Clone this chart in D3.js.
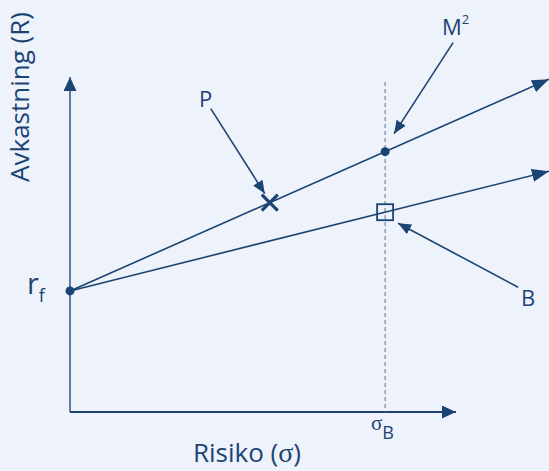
<!DOCTYPE html>
<html>
<head>
<meta charset="utf-8">
<script src="https://cdn.jsdelivr.net/npm/d3@7"></script>
<style>
  html, body { margin: 0; padding: 0; background: #eef2fb; }
  svg { display: block; }
  text { font-family: "Open Sans", "Noto Sans", sans-serif; fill: #1c4473; }
  .sym { font-family: "Liberation Serif", "DejaVu Serif", serif; }
</style>
</head>
<body>
<div id="chart"></div>
<script>
// values (risk in units of sigma_B, return in %)
const rf = 4;
const sigmaB = 1;
const returnM2 = 8.6;     // market-risk-adjusted portfolio at sigma_B
const returnB = 6.6;      // benchmark at sigma_B
const sigmaP = 0.634;     // portfolio P lies on the M2 line
const lineEnd = 1.52;     // lines run off the right edge

const axisLabels = ["Risiko (", "σ", ")", "Avkastning (R)"];
const pointLabels = ["P", "M", "B"];

const width = 549, height = 471;
const dark = "#1c4473";

const svg = d3.select("#chart").append("svg")
    .attr("width", width)
    .attr("height", height);

// scales, origin at (70, 412)
const x = d3.scaleLinear().domain([0, 1.225]).range([70, 456]);
const y = d3.scaleLinear().domain([0, 11]).range([412, 79]);

// arrow heads
const defs = svg.append("defs");
function marker(id, len, wid) {
    defs.append("marker")
        .attr("id", id)
        .attr("markerUnits", "userSpaceOnUse")
        .attr("viewBox", `0 0 ${len} ${wid}`)
        .attr("refX", len).attr("refY", wid / 2)
        .attr("markerWidth", len).attr("markerHeight", wid)
        .attr("orient", "auto")
        .append("path")
        .attr("d", `M0,0L${len},${wid / 2}L0,${wid}Z`)
        .attr("fill", dark);
}
marker("axisHead", 14, 13);
marker("lineHead", 17, 13);
marker("noteHead", 13, 11);

// axes
svg.append("line")
    .attr("x1", x(0)).attr("y1", y(0))
    .attr("x2", x(0)).attr("y2", 77)
    .attr("stroke", "#5b7ca6").attr("stroke-width", 2)
    .attr("marker-end", "url(#axisHead)");
svg.append("line")
    .attr("x1", x(0)).attr("y1", y(0))
    .attr("x2", x(1.225)).attr("y2", y(0))
    .attr("stroke", dark).attr("stroke-width", 2)
    .attr("marker-end", "url(#axisHead)");

// dashed line at sigma_B
svg.append("line")
    .attr("x1", x(sigmaB)).attr("y1", y(10.9))
    .attr("x2", x(sigmaB)).attr("y2", y(0))
    .attr("stroke", "#5a7597").attr("stroke-width", 1)
    .attr("stroke-dasharray", "4,3");

// the two lines from rf
const slopeM2 = (returnM2 - rf) / sigmaB;
const slopeB = (returnB - rf) / sigmaB;
[slopeM2, slopeB].forEach(s => {
    svg.append("line")
        .attr("x1", x(0)).attr("y1", y(rf))
        .attr("x2", x(lineEnd)).attr("y2", y(rf + s * lineEnd))
        .attr("stroke", dark).attr("stroke-width", 1.6)
        .attr("marker-end", "url(#lineHead)");
});

// rf and M2 dots
svg.append("circle").attr("cx", x(0)).attr("cy", y(rf)).attr("r", 4.5).attr("fill", dark);
svg.append("circle").attr("cx", x(sigmaB)).attr("cy", y(returnM2)).attr("r", 4.5).attr("fill", dark);

// P cross
const px = x(sigmaP), py = y(rf + slopeM2 * sigmaP);
svg.append("path")
    .attr("d", `M${px - 8},${py - 8}L${px + 8},${py + 8}M${px + 8},${py - 8}L${px - 8},${py + 8}`)
    .attr("stroke", dark).attr("stroke-width", 3.2).attr("fill", "none");

// B square
const bx = x(sigmaB), by = y(returnB);
svg.append("rect")
    .attr("x", bx - 8).attr("y", by - 8)
    .attr("width", 16).attr("height", 16)
    .attr("fill", "none").attr("stroke", dark).attr("stroke-width", 1.8);

// annotation arrows (start offset, tip offset from the marked point)
const notes = [
    { cx: px, cy: py, from: [-59, -94], to: [-5, -9] },
    { cx: x(sigmaB), cy: y(returnM2), from: [68, -109], to: [9, -18] },
    { cx: bx, cy: by, from: [133, 75], to: [13, 11] }
];
notes.forEach(n => {
    svg.append("line")
        .attr("x1", n.cx + n.from[0]).attr("y1", n.cy + n.from[1])
        .attr("x2", n.cx + n.to[0]).attr("y2", n.cy + n.to[1])
        .attr("stroke", dark).attr("stroke-width", 1.6)
        .attr("marker-end", "url(#noteHead)");
});

// point labels
svg.append("text").attr("x", 199).attr("y", 107).attr("font-size", 22).text(pointLabels[0]);
const m2 = svg.append("text").attr("x", 442).attr("y", 35).attr("font-size", 22).text(pointLabels[1]);
m2.append("tspan").attr("font-size", 13).attr("dy", -11).text("2");
svg.append("text").attr("x", 521).attr("y", 306).attr("font-size", 22).text(pointLabels[2]);

// rf label
const rfl = svg.append("text").attr("x", 27).attr("y", 294).attr("font-size", 29).text("r");
rfl.append("tspan").attr("font-size", 18).attr("dy", 8).text("f");

// sigma_B tick label
const sl = svg.append("text").attr("x", 371).attr("y", 430);
sl.append("tspan").attr("class", "sym").attr("font-size", 21).text("σ");
sl.append("tspan").attr("font-size", 18).attr("dy", 9).text("B");

// axis titles
const xt = svg.append("text")
    .attr("x", 247).attr("y", 462)
    .attr("text-anchor", "middle")
    .attr("font-size", 26);
xt.append("tspan").text(axisLabels[0]);
xt.append("tspan").attr("class", "sym").attr("font-size", 28).text(axisLabels[1]);
xt.append("tspan").text(axisLabels[2]);
svg.append("text")
    .attr("transform", "translate(29,97) rotate(-90)")
    .attr("text-anchor", "middle")
    .attr("font-size", 26)
    .text(axisLabels[3]);
</script>
</body>
</html>
